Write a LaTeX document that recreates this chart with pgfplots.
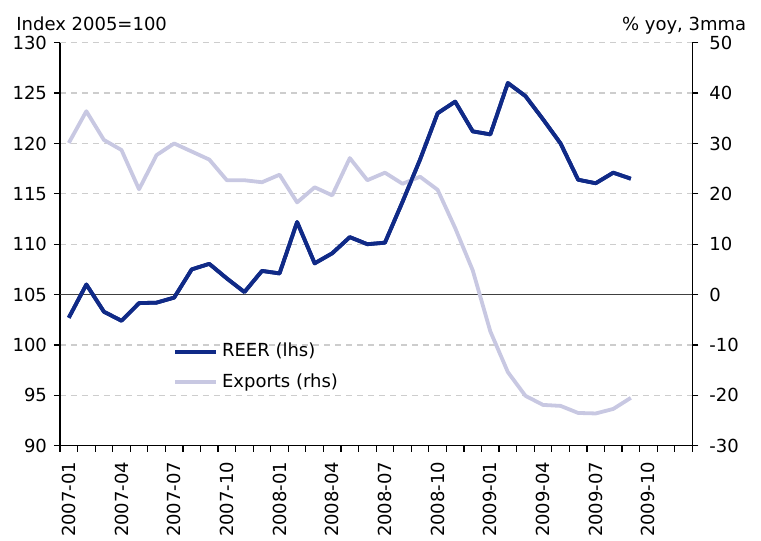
\documentclass[border=0pt]{standalone}
\usepackage{fontspec}
\setmainfont{DejaVu Sans}
\usepackage{pgfplots}
\usepackage{pgfplotstable}
\pgfplotsset{compat=1.18}
\definecolor{reer}{RGB}{16,42,135}
\definecolor{expc}{RGB}{200,200,226}
\definecolor{gridc}{RGB}{205,205,205}

\pgfplotstableread{
i reer exp
0 102.7 30.1
1 106.0 36.4
2 103.3 30.7
3 102.4 28.7
4 104.15 20.9
5 104.2 27.7
6 104.7 30.0
7 107.5 28.4
8 108.05 26.8
9 106.6 22.7
10 105.25 22.7
11 107.35 22.3
12 107.1 23.8
13 112.2 18.3
14 108.1 21.3
15 109.1 19.7
16 110.7 27.1
17 110.0 22.7
18 110.15 24.2
19 114.2 22.0
20 118.4 23.4
21 123.0 20.8
22 124.15 13.2
23 121.2 4.8
24 120.9 -7.3
25 126.0 -15.4
26 124.7 -20.1
27 122.4 -21.9
28 120.0 -22.1
29 116.4 -23.5
30 116.05 -23.6
31 117.1 -22.7
32 116.5 -20.5
}\datatable

\begin{document}
\begin{tikzpicture}[font=\fontsize{9}{10.8}\selectfont]
\path[use as bounding box] (-30pt,-47.65pt) rectangle (350.5pt,222.85pt);
\pgfplotsset{
  common/.style={
    scale only axis, width=316.15pt, height=201.5pt,
    at={(0,0)}, anchor=south west,
    xmin=-0.5, xmax=35.5,
    /pgf/number format/assume math mode=true,
    tick label style={font=\fontsize{9}{10.8}\selectfont},
    axis line style={black, line width=0.6pt},
    tick style={black, line width=0.6pt},
    tick align=outside,
    major tick length=3pt, minor tick length=3pt,
  }
}
\begin{axis}[common,
  ymin=90, ymax=130,
  axis x line*=bottom, axis y line*=left,
  ytick={90,95,...,130},
  ymajorgrids,
  grid style={gridc, dash pattern=on 3pt off 2.5pt, line width=0.6pt},
  xtick={0,3,...,33},
  xticklabels={2007-01,2007-04,2007-07,2007-10,2008-01,2008-04,2008-07,2008-10,2009-01,2009-04,2009-07,2009-10},
  major x tick style={draw=none},
  minor xtick={-0.5,0.5,...,35.5},
  x tick label style={rotate=90, anchor=east},
  xticklabel shift=1.5pt,
  legend style={draw=none, fill=none, at={(0.169,0.275)}, anchor=north west,
    font=\fontsize{9}{10.8}\selectfont, row sep=3pt,
    legend cell align=left},
  legend image code/.code={\draw[#1] (0pt,0pt) -- (20.5pt,0pt);},
]
\addplot[reer, line width=1.9pt, line join=round] table[x=i, y=reer] {\datatable};
\addlegendentry{REER (lhs)}
\addlegendimage{expc, line width=1.9pt}
\addlegendentry{Exports (rhs)}
\end{axis}
\begin{axis}[common,
  ymin=-30, ymax=50,
  axis y line*=right, axis x line=none,
  ytick={-30,-20,...,50},
  yticklabel shift=2pt,
]
\addplot[black!75, line width=0.6pt, forget plot] coordinates {(-0.5,0) (35.5,0)};
\addplot[expc, line width=1.9pt, line join=round] table[x=i, y=exp] {\datatable};
\end{axis}
\begin{axis}[common,
  ymin=90, ymax=130, hide axis]
\addplot[reer, line width=1.9pt, line join=round] table[x=i, y=reer] {\datatable};
\end{axis}
\node[anchor=base west, inner sep=0pt] at (-22pt,207.5pt) {Index 2005=100};
\node[anchor=base east, inner sep=0pt] at (343.3pt,207.5pt) {\% yoy, 3mma};
\end{tikzpicture}
\end{document}
